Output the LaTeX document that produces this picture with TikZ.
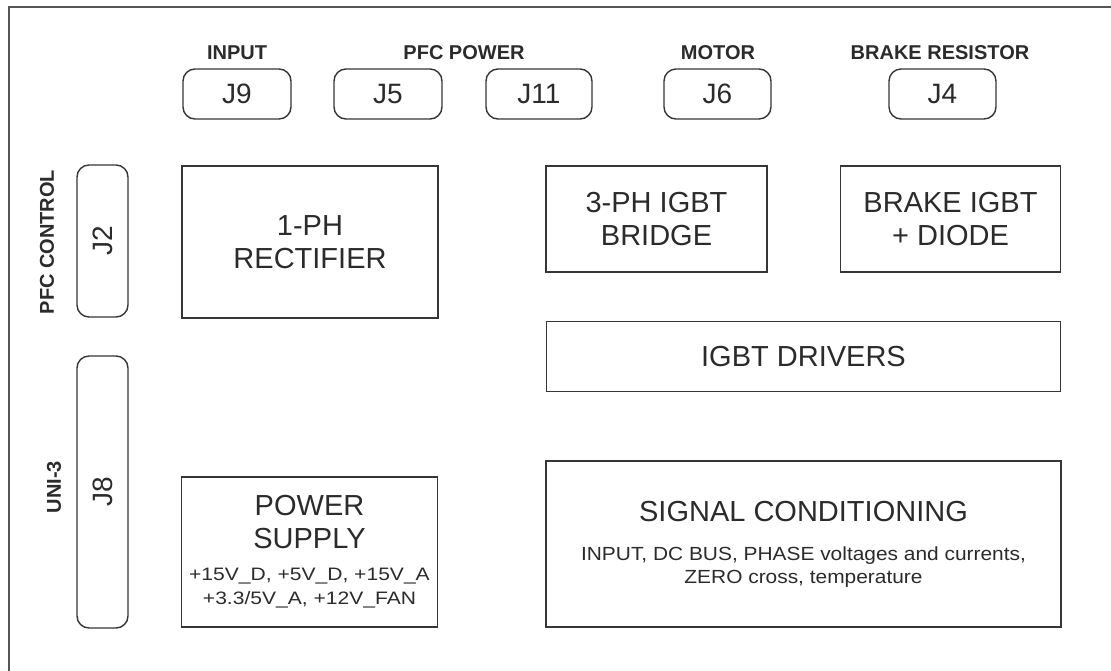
\documentclass[tikz,border=0pt]{standalone}
\usepackage{fontspec}
\setmainfont{Liberation Sans}
\definecolor{ink}{HTML}{2B2B2B}
\definecolor{edge}{HTML}{363636}
\definecolor{frame}{HTML}{555555}
\begin{document}
\begin{tikzpicture}[x=1pt,y=-1pt,
  blk/.style={draw=edge,line width=1.6pt,inner sep=0pt,outer sep=0pt,align=center,text=ink,
    font=\fontsize{29}{33}\selectfont},
  conn/.style={draw=edge,line width=1.4pt,rounded corners=12pt,inner sep=0pt,outer sep=0pt,
    text=ink,font=\fontsize{28}{32}\selectfont},
  lbl/.style={inner sep=0pt,text=ink,font=\fontsize{20}{22}\selectfont\bfseries},
  smalltxt/.style={}]
\clip (0,0) rectangle (1111,670);
\fill[white] (0,0) rectangle (1111,670);
\draw[frame,line width=2.5pt] (9,7) rectangle (1140,700);

% top connectors
\node[conn,minimum width=108,minimum height=50] (j9) at (237,94) {J9};
\node[conn,minimum width=108,minimum height=50] (j5) at (388,94) {J5};
\node[conn,minimum width=106,minimum height=50] (j11) at (539,94) {J11};
\node[conn,minimum width=107,minimum height=50] (j6) at (717.5,94) {J6};
\node[conn,minimum width=107,minimum height=50] (j4) at (942.5,94) {J4};

\node[lbl,anchor=base] (linput) at (237,59) {INPUT};
\node[lbl,anchor=base] (lpfcp) at (464,59) {PFC POWER};
\node[lbl,anchor=base] (lmotor) at (718,59) {MOTOR};
\node[lbl,anchor=base] (lbrake) at (940,59) {BRAKE RESISTOR};

% left connectors
\node[conn,minimum width=51,minimum height=152] (j2) at (102.5,241) {\rotatebox{90}{J2}};
\node[conn,minimum width=51,minimum height=272] (j8) at (102.5,492) {\rotatebox{90}{J8}};
\node[lbl] (lpfcc) at (47,242) {\rotatebox{90}{PFC CONTROL}};
\node[lbl] (luni) at (54,487) {\rotatebox{90}{UNI-3}};

% blocks
\node[blk,minimum width=256,minimum height=152] (rect) at (310,242) {1-PH\\RECTIFIER};
\node[blk,minimum width=256,minimum height=150] (psu) at (309.5,552)
  {POWER\\SUPPLY\\[-1pt]
   {\fontsize{18}{24}\selectfont\scalebox{1.17}[1]{+15V\_D, +5V\_D, +15V\_A}}\\[-9pt]
   {\fontsize{18}{24}\selectfont\scalebox{1.17}[1]{+3.3/5V\_A, +12V\_FAN}}};
\node[blk,minimum width=221,minimum height=106] (bridge) at (656.5,219) {3-PH IGBT\\BRIDGE};
\node[blk,minimum width=220,minimum height=106] (brake) at (950.5,219) {BRAKE IGBT\\+ DIODE};
\node[blk,minimum width=514,minimum height=70] (drv) at (803.5,356.5) {IGBT DRIVERS};
\node[blk,minimum width=515,minimum height=166] (sig) at (803.5,544)
  {SIGNAL CONDITIONING\\[6pt]
   {\fontsize{19}{23}\selectfont\scalebox{1.1}[1]{INPUT, DC BUS, PHASE voltages and currents,}}\\[-10pt]
   {\fontsize{19}{23}\selectfont\scalebox{1.1}[1]{ZERO cross, temperature}}};
\end{tikzpicture}
\end{document}
